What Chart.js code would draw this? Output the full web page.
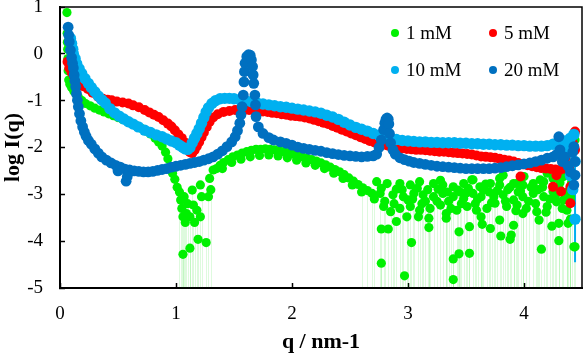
<!DOCTYPE html>
<html>
<head>
<meta charset="utf-8">
<script src="https://cdn.jsdelivr.net/npm/chart.js@4.4.1/dist/chart.umd.min.js"></script>
<style>
  html, body { margin: 0; padding: 0; background: #ffffff; }
  #wrap { width: 585px; height: 356px; }
</style>
</head>
<body>
<div id="wrap"><canvas id="c" width="585" height="356"></canvas></div>
<script>
// ---- Data: [q (nm-1), log I(q)] ----
const seriesLabels = ['1 mM', '5 mM', '10 mM', '20 mM'];
const seriesColors = ['#00f000', '#ff0000', '#00b0f0', '#0070c0'];
const xTicks = [0, 1, 2, 3, 4];
const yTicks = [-5, -4, -3, -2, -1, 0, 1];

const data1mM = [
  [0.06,0.88],[0.062,0.44],[0.064,0.25],[0.066,0.1],[0.068,-0.1],[0.07,-0.36],[0.075,-0.56],[0.085,-0.65],
  [0.10,-0.72],[0.12,-0.8],[0.14,-0.87],[0.16,-0.93],[0.19,-1.0],[0.22,-1.06],[0.26,-1.11],[0.30,-1.16],
  [0.34,-1.2],[0.38,-1.24],[0.42,-1.28],[0.46,-1.32],[0.50,-1.36],[0.54,-1.4],[0.58,-1.44],[0.62,-1.49],
  [0.66,-1.54],[0.70,-1.59],[0.74,-1.65],[0.78,-1.71],[0.82,-1.8],[0.85,-1.88],[0.88,-1.97],[0.91,-2.1],
  [0.93,-2.24],[0.95,-2.4],[0.97,-2.55],[0.99,-2.68],[1.01,-2.85],[1.03,-2.95],[1.04,-3.12],[1.05,-3.3],
  [1.06,-3.48],[1.06,-4.28],[1.07,-3.05],[1.08,-3.6],[1.09,-3.41],[1.10,-3.2],[1.12,-3.48],[1.12,-4.15],
  [1.14,-2.91],[1.15,-3.23],[1.16,-3.6],[1.18,-3.34],[1.19,-3.96],[1.21,-3.48],[1.21,-2.8],[1.22,-3.05],
  [1.26,-4.03],[1.28,-3.05],[1.29,-2.66],[1.30,-2.9],[1.32,-2.48],[1.35,-2.45],[1.38,-2.38],[1.41,-2.32],
  [1.45,-2.26],[1.49,-2.2],[1.53,-2.16],[1.57,-2.12],[1.61,-2.09],[1.65,-2.06],[1.69,-2.04],[1.73,-2.04],
  [1.77,-2.03],[1.81,-2.04],[1.85,-2.05],[1.89,-2.07],[1.93,-2.09],[1.97,-2.11],[2.01,-2.14],[2.05,-2.17],
  [2.09,-2.2],[2.13,-2.23],[2.17,-2.26],[2.21,-2.29],[2.25,-2.33],[2.29,-2.37],[2.33,-2.42],[2.37,-2.47],
  [2.41,-2.52],[2.45,-2.58],[2.49,-2.65],[2.53,-2.72],[2.57,-2.79],[2.61,-2.86],[2.65,-2.92],[2.69,-2.98],
  [1.40,-2.45],[1.48,-2.32],[1.56,-2.25],[1.64,-2.2],[1.72,-2.17],[1.80,-2.16],[1.88,-2.18],[1.96,-2.22],
  [2.04,-2.27],[2.12,-2.33],[2.20,-2.38],[2.28,-2.45],[2.36,-2.55],[2.44,-2.66],[2.52,-2.8],[2.60,-2.95],
  [2.73,-2.73],[2.82,-2.77],[2.93,-2.77],[3.02,-2.8],[3.10,-2.73],[3.22,-2.77],[3.30,-2.8],[3.39,-2.84],
  [3.48,-2.77],[3.55,-2.69],[3.62,-2.84],[3.71,-2.77],[3.79,-2.8],[3.82,-2.59],[3.91,-2.77],[3.99,-2.8],
  [4.08,-2.77],[4.17,-2.73],[4.25,-2.66],[4.34,-2.62],
  [2.76,-2.98],[2.87,-3.01],[2.96,-3.05],[3.05,-2.98],[3.13,-3.01],[3.22,-3.05],[3.30,-2.98],[3.39,-3.05],
  [3.48,-3.09],[3.56,-2.98],[3.65,-2.91],[3.74,-3.05],[3.82,-3.01],[3.91,-3.12],[3.99,-3.05],[4.08,-2.98],
  [4.17,-3.05],[4.25,-2.94],[4.34,-3.12],
  [2.79,-3.26],[2.85,-3.37],[2.93,-3.3],[3.02,-3.26],[3.10,-3.34],[3.19,-3.3],[3.28,-3.23],[3.33,-3.41],
  [3.42,-3.34],[3.51,-3.26],[3.59,-3.34],[3.68,-3.3],[3.75,-3.19],[3.85,-3.26],[3.94,-3.23],[4.02,-3.3],
  [4.11,-3.37],[4.20,-3.26],[4.28,-3.16],[4.40,-3.12],
  [2.77,-2.87],[2.90,-2.89],[3.08,-2.87],[3.26,-2.89],[3.43,-2.91],[3.52,-2.87],[3.60,-3.1],[3.70,-2.95],
  [3.86,-2.9],[3.95,-2.95],[4.12,-2.9],[4.22,-3.1],[4.30,-2.85],[3.00,-3.12],[3.15,-3.15],[3.35,-3.15],
  [3.45,-2.95],[4.20,-2.55],[4.36,-2.5],[4.00,-2.62],[3.56,-2.69],[3.79,-2.66],[3.94,-2.77],[4.14,-2.69],
  [2.71,-3.1],[2.80,-3.15],[2.88,-3.2],[2.95,-2.9],[3.04,-3.1],[3.12,-3.2],[3.17,-2.9],[3.25,-3.15],
  [3.28,-2.7],[3.34,-2.95],[3.37,-3.3],[3.46,-3.2],[3.50,-2.97],[3.58,-3.2],[3.63,-3.05],[3.67,-2.78],
  [3.72,-3.18],[3.77,-2.92],[3.84,-3.15],[3.88,-2.85],[3.93,-3.35],[3.97,-2.93],[4.04,-3.15],[4.06,-2.85],
  [4.10,-3.2],[4.16,-2.85],[4.19,-3.38],[4.27,-3.05],[4.31,-2.75],[4.37,-2.95],[4.41,-2.75],[4.33,-3.3],
  [2.77,-3.74],[2.83,-3.74],[2.77,-4.47],[2.90,-3.58],[2.97,-4.74],[3.03,-4.03],[2.99,-3.48],[3.18,-3.71],
  [3.09,-3.48],[3.39,-4.38],[3.39,-4.82],[3.44,-4.27],[3.53,-4.26],[3.44,-3.8],[3.53,-3.69],[3.64,-3.64],
  [3.71,-3.73],[3.80,-3.89],[3.88,-3.96],[3.89,-3.87],[3.79,-3.55],[3.91,-3.66],[4.13,-3.55],[4.15,-4.17],
  [4.24,-3.68],[4.30,-3.99],[4.30,-3.62],[4.43,-4.12],[4.40,-3.53],[3.99,-3.41],[3.63,-3.48],[3.33,-3.51],
  [3.18,-3.51],
  [4.44,-1.84],[4.40,-3.05],[4.41,-3.55],[4.44,-4.12],[4.37,-3.34],[4.38,-3.62]
];

const data5mM = [
  [0.065,-0.17],[0.08,-0.3],[0.10,-0.4],[0.12,-0.48],[0.14,-0.55],[0.17,-0.63],[0.20,-0.69],[0.24,-0.75],
  [0.28,-0.83],[0.33,-0.92],[0.37,-0.96],[0.41,-0.98],[0.445,-0.99],[0.49,-1.02],[0.54,-1.04],[0.59,-1.06],
  [0.63,-1.1],[0.68,-1.14],[0.73,-1.2],[0.77,-1.25],[0.81,-1.3],[0.85,-1.35],[0.89,-1.42],[0.93,-1.49],
  [0.96,-1.55],[0.99,-1.63],[1.02,-1.72],[1.05,-1.8],[1.08,-1.9],[1.10,-2.0],[1.12,-2.1],[1.14,-2.12],
  [1.16,-2.06],[1.18,-1.97],[1.20,-1.88],[1.22,-1.78],[1.24,-1.68],[1.265,-1.56],[1.29,-1.45],[1.32,-1.36],
  [1.36,-1.29],[1.41,-1.24],[1.46,-1.22],[1.51,-1.2],[1.55,-1.2],[1.59,-1.2],[1.63,-1.2],[1.67,-1.21],
  [1.71,-1.22],[1.75,-1.23],[1.79,-1.24],[1.83,-1.26],[1.87,-1.27],[1.91,-1.29],[1.95,-1.3],[1.99,-1.32],
  [2.03,-1.33],[2.07,-1.34],[2.11,-1.36],[2.15,-1.38],[2.19,-1.41],[2.23,-1.44],[2.27,-1.47],[2.31,-1.5],
  [2.35,-1.54],[2.39,-1.58],[2.43,-1.62],[2.47,-1.66],[2.51,-1.7],[2.55,-1.74],[2.59,-1.78],[2.63,-1.82],
  [2.67,-1.86],[2.71,-1.89],[2.75,-1.92],[2.79,-1.94],[2.83,-1.96],[2.87,-1.98],[2.91,-2.0],[2.95,-2.02],
  [2.99,-2.03],[3.03,-2.04],[3.07,-2.05],[3.11,-2.05],[3.15,-2.06],[3.19,-2.07],[3.23,-2.08],[3.27,-2.09],
  [3.31,-2.09],[3.35,-2.1],[3.39,-2.11],[3.43,-2.12],[3.47,-2.13],[3.51,-2.14],[3.55,-2.15],[3.59,-2.17],
  [3.63,-2.19],[3.67,-2.2],[3.71,-2.21],[3.75,-2.22],[3.79,-2.24],[3.83,-2.26],[3.87,-2.28],[3.91,-2.3],
  [3.95,-2.33],[3.99,-2.36],[4.03,-2.38],[4.07,-2.4],[4.11,-2.42],[4.15,-2.44],[4.19,-2.45],[4.23,-2.46],
  [4.27,-2.47],[4.31,-2.48],[4.35,-2.45],[4.39,-2.4],[4.43,-2.3],
  [3.97,-2.62],[4.25,-2.84],[4.32,-2.94],[4.40,-3.19],[4.28,-2.59],[4.40,-2.84],[4.44,-1.66],[4.42,-1.9],
  [4.38,-2.2],[4.44,-2.05]
];

const data10mM = [
  [0.09,0.33],[0.10,0.22],[0.11,0.1],[0.115,0.0],[0.13,-0.1],[0.144,-0.21],[0.165,-0.32],[0.187,-0.42],
  [0.215,-0.53],[0.244,-0.63],[0.27,-0.72],[0.30,-0.81],[0.33,-0.9],[0.36,-0.98],[0.39,-1.05],[0.43,-1.17],
  [0.47,-1.26],[0.51,-1.33],[0.55,-1.39],[0.59,-1.45],[0.63,-1.5],[0.675,-1.56],[0.73,-1.63],[0.78,-1.68],
  [0.83,-1.73],[0.88,-1.77],[0.92,-1.82],[0.96,-1.86],[1.00,-1.9],[1.03,-1.95],[1.06,-2.0],[1.08,-2.03],
  [1.10,-2.04],[1.12,-2.0],[1.14,-1.9],[1.16,-1.8],[1.18,-1.7],[1.20,-1.6],[1.22,-1.48],[1.24,-1.36],
  [1.26,-1.24],[1.28,-1.15],[1.31,-1.06],[1.34,-1.0],[1.38,-0.96],[1.42,-0.95],[1.46,-0.95],[1.50,-0.96],
  [1.55,-0.98],[1.60,-1.0],[1.65,-1.02],[1.70,-1.05],[1.75,-1.07],[1.80,-1.09],[1.85,-1.11],[1.90,-1.13],
  [1.95,-1.14],[2.00,-1.16],[2.05,-1.18],[2.10,-1.2],[2.15,-1.22],[2.20,-1.24],[2.25,-1.27],[2.30,-1.31],
  [2.35,-1.35],[2.40,-1.4],[2.45,-1.46],[2.50,-1.52],[2.55,-1.57],[2.60,-1.61],[2.65,-1.65],[2.70,-1.7],
  [2.75,-1.74],[2.80,-1.77],[2.85,-1.8],[2.90,-1.83],[2.95,-1.85],[3.00,-1.86],[3.05,-1.87],[3.10,-1.88],
  [3.15,-1.88],[3.20,-1.89],[3.25,-1.89],[3.30,-1.9],[3.35,-1.9],[3.40,-1.9],[3.45,-1.91],[3.50,-1.91],
  [3.55,-1.92],[3.60,-1.92],[3.65,-1.93],[3.70,-1.93],[3.75,-1.94],[3.80,-1.94],[3.85,-1.95],[3.90,-1.95],
  [3.95,-1.96],[4.00,-1.96],[4.05,-1.97],[4.10,-1.97],[4.15,-1.97],[4.20,-1.96],[4.25,-1.93],[4.30,-1.9],
  [4.35,-1.86],[4.40,-1.8],[4.43,-1.72],
  [4.38,-1.95],[4.41,-2.1],[4.40,-2.6],[4.42,-2.9],[4.44,-3.53],[4.44,-2.3],[4.36,-2.1]
];
// error bar of the last 10 mM point: [q, upper log I, lower log I]
const errBars10mM = [[4.44, -1.9, -4.45]];

const data20mM = [
  [0.07,0.57],[0.075,0.4],[0.08,0.26],[0.09,0.08],[0.10,-0.08],[0.108,-0.2],[0.115,-0.3],[0.122,-0.45],
  [0.128,-0.58],[0.135,-0.7],[0.142,-0.85],[0.15,-0.99],[0.158,-1.13],[0.168,-1.28],[0.18,-1.43],[0.195,-1.56],
  [0.21,-1.67],[0.225,-1.76],[0.245,-1.85],[0.27,-1.93],[0.30,-2.03],[0.33,-2.12],[0.36,-2.2],[0.40,-2.27],
  [0.44,-2.33],[0.48,-2.38],[0.52,-2.42],[0.56,-2.46],[0.60,-2.48],[0.64,-2.5],[0.68,-2.51],[0.72,-2.52],
  [0.76,-2.52],[0.80,-2.51],[0.84,-2.49],[0.88,-2.47],[0.92,-2.45],[0.96,-2.42],[1.00,-2.4],[1.04,-2.38],
  [1.08,-2.36],[1.12,-2.34],[1.16,-2.32],[1.20,-2.3],[1.24,-2.27],[1.28,-2.24],[1.32,-2.2],[1.36,-2.14],
  [1.40,-2.07],[1.44,-1.98],[1.48,-1.88],[1.51,-1.77],[1.53,-1.64],[1.55,-1.48],[1.56,-1.3],[1.57,-1.13],
  [1.58,-0.88],[1.586,-0.6],[1.59,-0.38],[1.595,-0.2],[1.61,-0.06],[1.625,-0.02],[1.64,-0.03],[1.65,-0.13],
  [1.66,-0.27],[1.665,-0.45],[1.67,-0.63],[1.68,-0.88],[1.685,-1.09],[1.69,-1.34],[1.71,-1.56],[1.75,-1.7],
  [1.80,-1.79],[1.84,-1.84],[1.90,-1.88],[1.95,-1.91],[2.00,-1.95],[2.05,-1.99],[2.10,-2.02],[2.15,-2.04],
  [2.20,-2.06],[2.25,-2.08],[2.30,-2.11],[2.35,-2.13],[2.40,-2.15],[2.45,-2.17],[2.50,-2.18],[2.55,-2.19],
  [2.60,-2.2],[2.65,-2.19],[2.70,-2.18],[2.73,-2.14],[2.75,-2.0],[2.77,-1.84],[2.79,-1.62],[2.80,-1.48],
  [2.81,-1.4],[2.82,-1.37],[2.83,-1.4],[2.835,-1.5],[2.84,-1.7],[2.85,-1.9],[2.87,-2.05],[2.89,-2.14],
  [2.93,-2.22],[2.97,-2.26],[3.01,-2.29],[3.05,-2.32],[3.10,-2.34],[3.15,-2.36],[3.20,-2.38],[3.25,-2.4],
  [3.30,-2.41],[3.35,-2.42],[3.40,-2.43],[3.45,-2.44],[3.50,-2.45],[3.55,-2.45],[3.60,-2.45],[3.65,-2.45],
  [3.70,-2.45],[3.75,-2.44],[3.80,-2.43],[3.85,-2.41],[3.90,-2.39],[3.95,-2.37],[4.00,-2.35],[4.05,-2.33],
  [4.10,-2.3],[4.15,-2.27],[4.20,-2.23],[4.25,-2.2],[4.28,-2.15],[4.30,-1.77],[4.31,-2.05],[4.33,-2.3],
  [4.35,-2.2],[4.38,-2.4],[4.40,-2.52],[4.42,-2.1],[4.43,-1.98],[4.43,-2.8],[4.44,-2.3],[4.44,-2.59],
  [0.57,-2.72],[0.58,-2.62],[0.50,-2.5]
];

const seriesData = [data1mM, data5mM, data10mM, data20mM];

// ---- Styling ----
const SERIF = '"Liberation Serif", "Times New Roman", serif';
const pointRadii = [4.6, 5, 5.7, 5.4];

const errorBarPlugin = {
  id: 'errorBars',
  beforeDatasetsDraw(chart) {
    const { ctx, chartArea, scales } = chart;
    const ds = chart.data.datasets[0];
    ctx.save();
    ctx.beginPath();
    ctx.rect(chartArea.left, chartArea.top, chartArea.width, chartArea.height);
    ctx.clip();
    // 1 mM: lower error bars of the weak points run off the bottom of the log axis
    ctx.strokeStyle = 'rgba(0, 220, 0, 0.13)';
    ctx.lineWidth = 1;
    ds.data.forEach(p => {
      if (p.x > 1 && p.y <= -2.9) {
        const px = Math.round(scales.x.getPixelForValue(p.x)) + 0.5;
        ctx.beginPath();
        ctx.moveTo(px, scales.y.getPixelForValue(p.y));
        ctx.lineTo(px, chartArea.bottom);
        ctx.stroke();
      }
    });
    // 10 mM error bar
    ctx.strokeStyle = seriesColors[2];
    ctx.lineWidth = 2;
    errBars10mM.forEach(e => {
      const px = scales.x.getPixelForValue(e[0]);
      ctx.beginPath();
      ctx.moveTo(px, scales.y.getPixelForValue(e[1]));
      ctx.lineTo(px, scales.y.getPixelForValue(e[2]));
      ctx.stroke();
    });
    ctx.restore();
  }
};

const frameAndLegendPlugin = {
  id: 'frameAndLegend',
  afterDraw(chart) {
    const { ctx, chartArea } = chart;
    ctx.save();
    ctx.strokeStyle = '#000';
    ctx.lineWidth = 1.5;
    ctx.strokeRect(chartArea.left, chartArea.top, chartArea.width, chartArea.height);
    // legend: 2 columns x 2 rows inside the plot
    ctx.font = '19px ' + SERIF;
    ctx.textBaseline = 'middle';
    ctx.textAlign = 'left';
    chart.data.datasets.forEach((ds, i) => {
      const col = i % 2, row = Math.floor(i / 2);
      const x = chartArea.left + 335 + col * 98;
      const y = chartArea.top + 26 + row * 37;
      ctx.fillStyle = ds.backgroundColor;
      ctx.beginPath();
      ctx.arc(x, y, 4, 0, Math.PI * 2);
      ctx.fill();
      ctx.fillStyle = '#000';
      ctx.fillText(ds.label, x + 11, y + 1);
    });
    ctx.restore();
  }
};

const datasets = seriesData.map((arr, i) => ({
  label: seriesLabels[i],
  data: arr.map(p => ({ x: p[0], y: p[1] })),
  backgroundColor: seriesColors[i],
  borderColor: seriesColors[i],
  borderWidth: 0,
  pointRadius: pointRadii[i],
  pointHoverRadius: pointRadii[i],
  showLine: false,
  order: 4 - i
}));

new Chart(document.getElementById('c'), {
  type: 'scatter',
  data: { datasets },
  options: {
    responsive: false,
    animation: false,
    devicePixelRatio: 1,
    layout: { autoPadding: false, padding: { left: 0, right: 3, top: 7, bottom: 0 } },
    plugins: { legend: { display: false }, tooltip: { enabled: false } },
    scales: {
      x: {
        type: 'linear', min: 0, max: 4.5,
        afterBuildTicks: s => { s.ticks = xTicks.map(v => ({ value: v })); },
        ticks: { color: '#000', font: { family: SERIF, size: 19 }, padding: 20, maxRotation: 0 },
        grid: { drawOnChartArea: false, tickLength: -5, color: '#000', tickWidth: 1.5 },
        border: { display: true, color: '#000', width: 2 },
        title: { display: true, text: 'q / nm-1', color: '#000',
                 font: { family: SERIF, size: 22, weight: 'bold' }, padding: { top: 0, bottom: 0 } },
        afterFit: s => { s.height = 68; s.paddingLeft = 0; s.paddingRight = 0; s.paddingTop = 0; s.paddingBottom = 0; }
      },
      y: {
        type: 'linear', min: -5, max: 1,
        afterBuildTicks: s => { s.ticks = yTicks.map(v => ({ value: v })); },
        ticks: { color: '#000', font: { family: SERIF, size: 19 }, padding: 22 },
        grid: { drawOnChartArea: false, tickLength: -5, color: '#000', tickWidth: 1.5 },
        border: { display: true, color: '#000', width: 2 },
        title: { display: true, text: 'log I(q)', color: '#000',
                 font: { family: SERIF, size: 22, weight: 'bold' }, padding: { top: 0, bottom: 0 } },
        afterFit: s => { s.width = 60; s.paddingLeft = 0; s.paddingRight = 0; s.paddingTop = 0; s.paddingBottom = 0; }
      }
    }
  },
  plugins: [errorBarPlugin, frameAndLegendPlugin]
});
</script>
</body>
</html>
